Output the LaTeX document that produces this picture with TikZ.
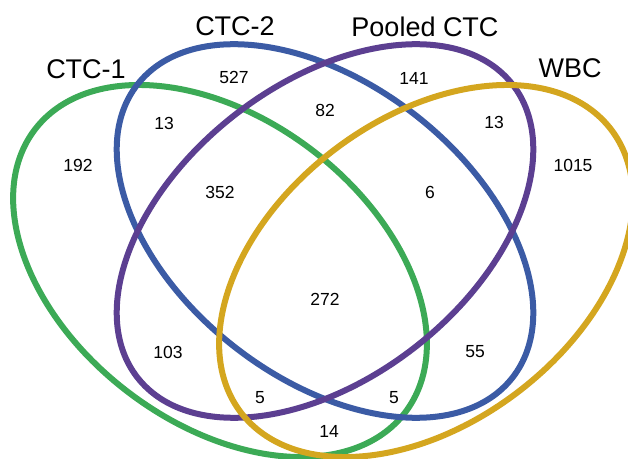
\documentclass[tikz,border=0pt]{standalone}
\usepackage{fontspec}
\setmainfont{Liberation Sans}
\definecolor{cgreen}{RGB}{60,170,86}
\definecolor{cblue}{RGB}{59,91,165}
\definecolor{cpurple}{RGB}{92,63,145}
\definecolor{cyellow}{RGB}{212,166,31}
\tikzset{
  ring/.style={line width=6pt},
  setlabel/.style={inner sep=0pt, font=\fontsize{27}{30}\selectfont},
  count/.style={inner sep=0pt, font=\fontsize{17.5}{20}\selectfont}
}
\begin{document}
\begin{tikzpicture}[x=1pt,y=1pt]
\useasboundingbox (0,0) rectangle (628,458);
\clip (0,0) rectangle (628,458);
\draw[ring, cgreen, rotate around={-37.4:(220,187)}] (220,187) ellipse [x radius=233, y radius=152];
\draw[ring, cblue, rotate around={-38:(325,227)}] (325,227) ellipse [x radius=238, y radius=147];
\draw[ring, cpurple, rotate around={38:(325,227)}] (325,227) ellipse [x radius=238, y radius=147];
\draw[ring, cyellow, rotate around={37.4:(426,187)}] (426,187) ellipse [x radius=233, y radius=152];
% set labels
\node[setlabel] (l1) at (86,389) {CTC-1};
\node[setlabel] (l2) at (235,431.5) {CTC-2};
\node[setlabel] (l3) at (425,431.5) {Pooled CTC};
\node[setlabel] (l4) at (570,390) {WBC};
% counts
\node[count] (n527) at (234,381) {527};
\node[count] (n13a) at (164,335) {13};
\node[count] (n192) at (78,293) {192};
\node[count] (n352) at (220,266) {352};
\node[count] (n82) at (325,348) {82};
\node[count] (n141) at (414,380) {141};
\node[count] (n13b) at (494,336) {13};
\node[count] (n1015) at (573,293) {1015};
\node[count] (n6) at (430,266) {6};
\node[count] (n272) at (325,159) {272};
\node[count] (n103) at (168,106) {103};
\node[count] (n5a) at (260,60) {5};
\node[count] (n5b) at (394,60) {5};
\node[count] (n55) at (475,106) {55};
\node[count] (n14) at (329,27) {14};
\end{tikzpicture}
\end{document}
